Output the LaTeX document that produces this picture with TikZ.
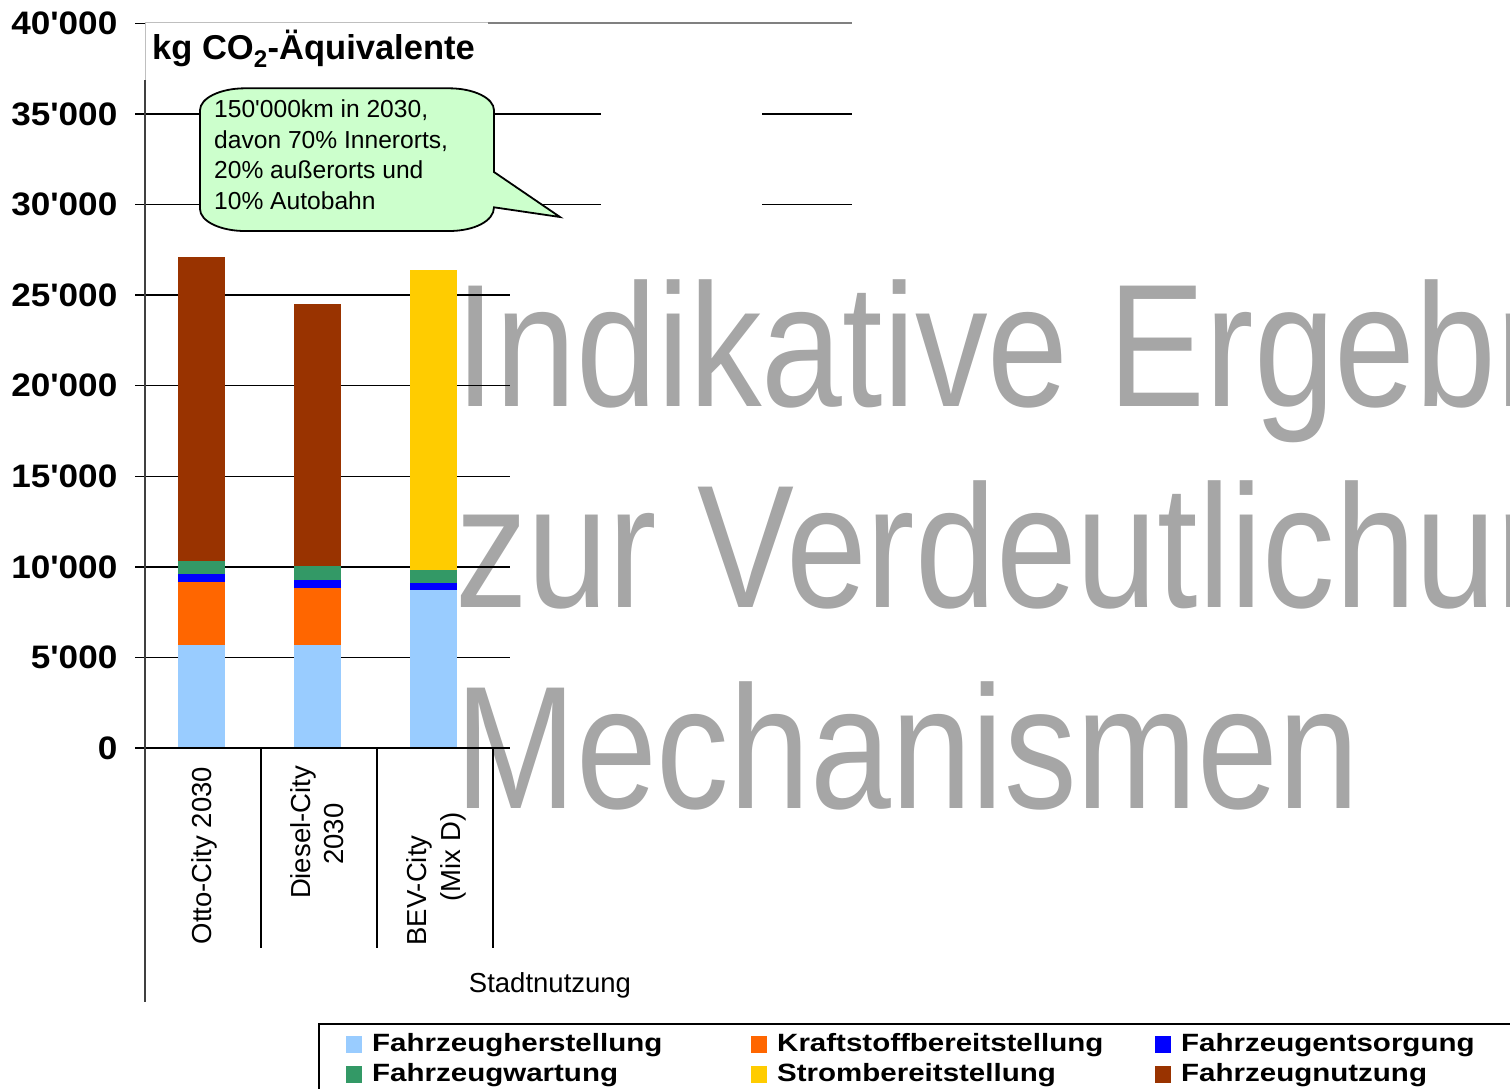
\documentclass[tikz,border=0pt]{standalone}
\usepackage{fontspec}
\newfontfamily\arialfont{Liberation Sans}
\newfontfamily\axisfont{Liberation Sans}[FakeStretch=1.08]
\newfontfamily\legendfont{Liberation Sans}[FakeStretch=1.18]
\newfontfamily\markfont{Liberation Sans}[FakeStretch=0.83]
\definecolor{fzherst}{HTML}{99CCFF}
\definecolor{kraftst}{HTML}{FF6600}
\definecolor{entsorg}{HTML}{0000FF}
\definecolor{wartung}{HTML}{339966}
\definecolor{strom}{HTML}{FFCC00}
\definecolor{nutzung}{HTML}{993300}
\definecolor{bubblegreen}{HTML}{CCFFCC}
\definecolor{markgray}{HTML}{A6A6A6}
\tikzset{
  ticklabel/.style={anchor=east, inner sep=0pt, font=\axisfont\bfseries\fontsize{32.5}{36}\selectfont},
  catlabel/.style={rotate=90, anchor=base, inner sep=0pt, font=\arialfont\fontsize{27.5}{30}\selectfont},
  legendtext/.style={anchor=base west, inner sep=0pt, font=\legendfont\bfseries\fontsize{25}{28}\selectfont},
  gridline/.style={black, line width=1.3pt}
}

\begin{document}
\begin{tikzpicture}[x=1pt, y=-1pt]
            \useasboundingbox (0,0) rectangle (1510,1088);
            \clip (0,0) rectangle (1510,1088);
            \node[anchor=base west, align=left, inner sep=0pt, text=markgray,
                  font=\markfont\fontsize{175}{201}\selectfont] (wmark) at (455,808)
                 {Indikative Ergebnisse\\zur Verdeutlichung\\Mechanismen};
            \foreach \y in {657.4, 566.9, 476.3, 385.75, 295.1}
                \draw[gridline] (135,\y) -- (510,\y);
            \foreach \y in {204.6, 114}
                \draw[gridline] (135,\y) -- (601,\y) (762,\y) -- (852,\y);
            \draw[gridline] (135,23.5) -- (145,23.5);
            \draw[gray, line width=2pt] (488,23.3) -- (852,23.3);
            \fill[white] (145.5,23.5) rectangle (488,80);
            \draw[gray!50, line width=1pt] (145,80) -- (145,22.7) -- (488,22.7);
            \foreach \x/\a/\b/\c in {178/748/645/fzherst, 178/645/582/kraftst, 178/582/574/entsorg,
                                     178/574/561/wartung, 178/561/257/nutzung,
                                     294/748/645/fzherst, 294/645/588/kraftst, 294/588/580/entsorg,
                                     294/580/566/wartung, 294/566/304/nutzung,
                                     410/748/590/fzherst, 410/590/583/entsorg, 410/583/570/wartung,
                                     410/570/270/strom}
                \fill[\c] (\x,\a) rectangle (\x+47,\b);
            \draw[black, line width=2pt] (135,748) -- (510,748);
            \draw[black!75, line width=2pt] (145,80) -- (145,1002);
            \foreach \x in {261, 377, 493}
                \draw[gridline] (\x,748) -- (\x,948);
            \foreach \y/\v [count=\i] in {748/0, 657.4/5'000, 566.9/10'000, 476.3/15'000, 385.75/20'000,
                                         295.1/25'000, 204.6/30'000, 114/35'000, 23.5/40'000}
                \node[ticklabel] (tick\i) at (117.5,\y) {\v};
            \node[anchor=base west, inner sep=0pt, font=\arialfont\bfseries\fontsize{34.5}{40}\selectfont]
                 (title) at (152,59.3) {kg CO\textsubscript{2}-Äquivalente};
            \filldraw[fill=bubblegreen, draw=black, line width=1.8pt]
                 (245,88.3) -- (449,88.3) .. controls (473.9,88.3) and (494,98.15) .. (494,110.3)
                 -- (494,172) -- (560,217) -- (494,207.3)
                 .. controls (494,221.15) and (473.9,231) .. (449,231) -- (245,231)
                 .. controls (220.1,231) and (200,221.15) .. (200,209) -- (200,110.3)
                 .. controls (200,98.15) and (220.1,88.3) .. (245,88.3) -- cycle;
            \node[anchor=base west, align=left, inner sep=0pt, font=\arialfont\fontsize{24.6}{30.4}\selectfont]
                 (note) at (214,209) {150'000km in 2030,\\davon 70\% Innerorts,\\20\% außerorts und\\10\% Autobahn};
            \node[catlabel] (otto) at (211,855.5) {Otto-City 2030};
            \node[catlabel] (diesel) at (310,832.5) {Diesel-City};
            \node[catlabel] (dieselyear) at (343,834) {2030};
            \node[catlabel] (bev) at (426,890.5) {BEV-City};
            \node[catlabel] (bevmix) at (460,857) {(Mix D)};
            \node[anchor=base, inner sep=0pt, font=\arialfont\fontsize{27.5}{30}\selectfont]
                 (usage) at (550,992.5) {Stadtnutzung};
            \draw[black, line width=1.5pt] (1515,1024) -- (319,1024) -- (319,1095);
            \foreach \x/\r/\c/\t in {346/0/fzherst/Fahrzeugherstellung, 751/0/kraftst/Kraftstoffbereitstellung,
                                     1155/0/entsorg/Fahrzeugentsorgung, 346/1/wartung/Fahrzeugwartung,
                                     751/1/strom/Strombereitstellung, 1155/1/nutzung/Fahrzeugnutzung}
            {
                \fill[\c] (\x,1036+30*\r) rectangle ++(16,16.7);
                \node[legendtext] (leg-\c) at (\x+26,1051.7+30*\r) {\t};
            }
        \end{tikzpicture}
\end{document}
